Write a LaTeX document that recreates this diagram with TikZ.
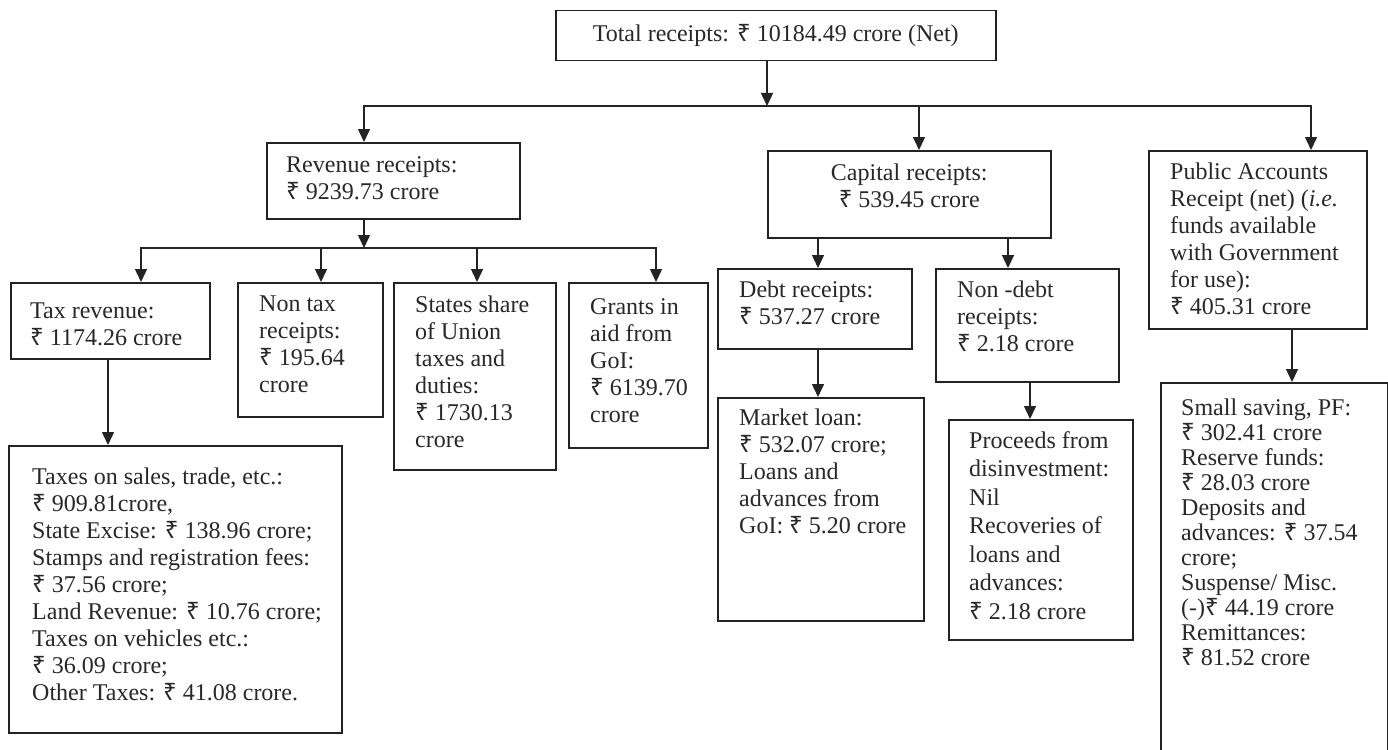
\documentclass[tikz,border=0pt]{standalone}
\usepackage{fontspec}
\setmainfont{Liberation Serif}
\newfontfamily\rsfont{Noto Sans}
\newcommand\rs{{\rsfont\symbol{"20B9}}}
\usetikzlibrary{arrows.meta,calc}
\definecolor{lc}{RGB}{35,35,35}
\definecolor{tc}{RGB}{40,40,40}
\newcommand\myfs{\fontsize{24}{27}\selectfont}
\newcommand\mybx[5]{\node[box, minimum width={#4-#2}, minimum height={#5-#3}] (#1) at (#2,#3) {};}
\tikzset{
  box/.style={draw=lc, line width=1.5pt, inner sep=0pt, anchor=north west},
  txt/.style={inner sep=0pt, anchor=north west, align=left, font=\myfs, text=tc},
  ctxt/.style={inner sep=0pt, anchor=north, align=center, font=\myfs, text=tc},
  ln/.style={draw=lc, line width=1.5pt},
  arr/.style={draw=lc, line width=1.5pt, -{Triangle[width=12pt,length=13pt]}},
}
\begin{document}
\begin{tikzpicture}[x=1pt,y=-1pt]
\useasboundingbox[fill=white] (0,0) rectangle (1388,749);
% boxes
\mybx{tot}{555}{10}{995}{60}
\mybx{rev}{266}{142}{519}{218}
\mybx{cap}{767}{150}{1050}{237}
\mybx{pub}{1148}{150}{1366}{328}
\mybx{tax}{10}{282}{209}{358}
\mybx{ntax}{237}{282}{382}{416}
\mybx{share}{393}{282}{555}{469}
\mybx{grant}{568}{282}{707}{447}
\mybx{det}{8}{445}{341}{732}
\mybx{debt}{717}{268}{911}{348}
\mybx{ndebt}{935}{268}{1118}{381}
\mybx{market}{717}{397}{923}{620}
\mybx{proc}{948}{419}{1132}{639}
\mybx{small}{1160}{382}{1387}{770}
% texts
\node[inner sep=0pt, font=\myfs, text=tc] (totT) at (tot.center) {Total receipts: \rs{} 10184.49 crore (Net)};
\node[ctxt] (capT) at ($(cap.north)+(0,14)$) {Capital receipts:\\\rs{} 539.45 crore};
\node[txt] (revT) at ($(rev.north west)+(20,14)$) {Revenue receipts:\\\rs{} 9239.73 crore};
\node[txt] (pubT) at ($(pub.north west)+(22,13)$) {Public Accounts\\Receipt (net) (\textit{i.e.}\\funds available\\with Government\\for use):\\\rs{} 405.31 crore};
\node[txt] (taxT) at ($(tax.north west)+(20,21)$) {Tax revenue:\\\rs{} 1174.26 crore};
\node[txt] (ntaxT) at ($(ntax.north west)+(22,14)$) {Non tax\\receipts:\\\rs{} 195.64\\crore};
\node[txt] (shareT) at ($(share.north west)+(22,14)$) {States share\\of Union\\taxes and\\duties:\\\rs{} 1730.13\\crore};
\node[txt] (grantT) at ($(grant.north west)+(22,16)$) {Grants in\\aid from\\GoI:\\\rs{} 6139.70\\crore};
\node[txt] (detT) at ($(det.north west)+(24,23)$) {Taxes on sales, trade, etc.:\\\rs{} 909.81crore,\\State Excise: \rs{} 138.96 crore;\\Stamps and registration fees:\\\rs{} 37.56 crore;\\Land Revenue: \rs{} 10.76 crore;\\Taxes on vehicles etc.:\\\rs{} 36.09 crore;\\Other Taxes: \rs{} 41.08 crore.};
\node[txt] (debtT) at ($(debt.north west)+(22,13)$) {Debt receipts:\\\rs{} 537.27 crore};
\node[txt] (ndebtT) at ($(ndebt.north west)+(22,13)$) {Non -debt\\receipts:\\\rs{} 2.18 crore};
\node[txt] (marketT) at ($(market.north west)+(22,12)$) {Market loan:\\\rs{} 532.07 crore;\\Loans and\\advances from\\GoI: \rs{} 5.20 crore};
\node[txt, font={\fontsize{24}{28.5}\selectfont}] (procT) at ($(proc.north west)+(21,12)$) {Proceeds from\\disinvestment:\\Nil\\Recoveries of\\loans and\\advances:\\\rs{} 2.18 crore};
\node[txt, font={\fontsize{24}{25}\selectfont}] (smallT) at ($(small.north west)+(21,17)$) {Small saving, PF:\\\rs{} 302.41 crore\\Reserve funds:\\\rs{} 28.03 crore\\Deposits and\\advances: \rs{} 37.54\\crore;\\Suspense/ Misc.\\(-)\rs{} 44.19 crore\\Remittances:\\\rs{} 81.52 crore};
% connector points
\coordinate (b0) at (767,106);
\coordinate (b1) at (364,106);
\coordinate (b2) at (1311,106);
\coordinate (b3) at (919,106);
\coordinate (r0) at (364,248);
\coordinate (r1) at (141,248);
\coordinate (r2) at (656,248);
\coordinate (r3) at (321,248);
\coordinate (r4) at (477,248);
\coordinate (c1) at (818,0);
\coordinate (c2) at (1008,0);
\coordinate (k1) at (108,0);
\coordinate (k3) at (1030,0);
\coordinate (k4) at (1292,0);
% connectors
\draw[arr] (tot.south -| b0) -- (b0);
\draw[arr] (b3) -- (b1) -- (b1 |- rev.north);
\draw[arr] (b3) -- (b2) -- (b2 |- pub.north);
\draw[arr] (b3) -- (b3 |- cap.north);
\draw[arr] (rev.south -| r0) -- (r0);
\draw[arr] (r0) -- (r1) -- (r1 |- tax.north);
\draw[arr] (r0) -- (r2) -- (r2 |- grant.north);
\draw[arr] (r3) -- (r3 |- ntax.north);
\draw[arr] (r4) -- (r4 |- share.north);
\draw[arr] (cap.south -| c1) -- (c1 |- debt.north);
\draw[arr] (cap.south -| c2) -- (c2 |- ndebt.north);
\draw[arr] (tax.south -| k1) -- (k1 |- det.north);
\draw[arr] (debt.south -| c1) -- (c1 |- market.north);
\draw[arr] (ndebt.south -| k3) -- (k3 |- proc.north);
\draw[arr] (pub.south -| k4) -- (k4 |- small.north);
\end{tikzpicture}
\end{document}
